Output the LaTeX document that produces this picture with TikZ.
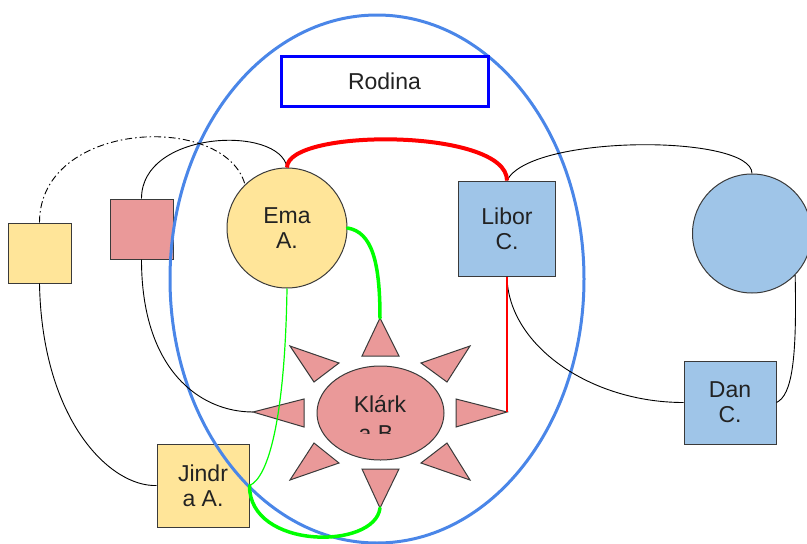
\documentclass[tikz,border=0pt]{standalone}
\usepackage{fontspec}
\setmainfont{Liberation Sans}
\usetikzlibrary{shapes.geometric}

\definecolor{famyellow}{HTML}{FFE599}
\definecolor{fampink}{HTML}{EA9999}
\definecolor{famblue}{HTML}{9FC5E8}
\definecolor{ringblue}{HTML}{4A86E8}
\definecolor{titleblue}{HTML}{0000FF}
\definecolor{linkgreen}{HTML}{00FF00}
\definecolor{linkred}{HTML}{FF0000}
\definecolor{edgegray}{HTML}{3A3A3A}
\definecolor{inkgray}{HTML}{222222}

\tikzset{
  person/.style={draw=edgegray, line width=1pt, inner sep=0pt, align=center,
    text=inkgray, font=\fontsize{23}{25}\selectfont},
  boxperson/.style={person, rectangle},
  roundperson/.style={person, circle},
  ray/.style={draw=edgegray, line width=1pt, fill=fampink, line join=miter},
  tie/.style={draw=black, line width=0.9pt},
  thinlink/.style={line width=1.2pt},
  strongtie/.style={line width=3.5pt, line cap=round},
}

\begin{document}
\begin{tikzpicture}[x=1pt, y=-1pt]
\useasboundingbox (0,0) rectangle (807,544);

% people
\node[boxperson, fill=famyellow, minimum width=63pt, minimum height=60pt] (yel) at (39.5,253) {};
\node[boxperson, fill=fampink, minimum width=63pt, minimum height=60pt] (pink) at (141.5,229) {};
\node[roundperson, fill=famyellow, minimum size=120pt] (ema) at (287,228) {Ema\\A.};
\node[boxperson, fill=famblue, minimum width=97pt, minimum height=95pt] (libor) at (507,228.5) {Libor\\C.};
\node[roundperson, fill=famblue, minimum size=119pt] (rc) at (752,233.5) {};
\node[boxperson, fill=famblue, minimum width=92pt, minimum height=83pt] (dan) at (730,402.5) {Dan\\C.};
\node[boxperson, fill=famyellow, minimum width=92pt, minimum height=83pt] (jindra) at (203,485.5) {Jindr\\a A.};

% the sun: body and eight rays
\node[ellipse, draw=edgegray, line width=1pt, fill=fampink, minimum width=127pt,
  minimum height=94pt, inner sep=0pt] (klara) at (380.5,413) {};
\begin{scope}
  \clip (300,380) rectangle (460,433);
  \node[anchor=base, text=inkgray, font=\fontsize{23}{25}\selectfont, inner sep=0pt] (klaraA) at (380,412.5) {Klárk};
  \node[anchor=base, text=inkgray, font=\fontsize{23}{25}\selectfont, inner sep=0pt] (klaraB) at (376,441) {a B};
\end{scope}

\coordinate (sunN) at (380,318);
\coordinate (sunS) at (380,508);
\coordinate (sunW) at (253,412);
\coordinate (sunE) at (507,412);
\path[ray] (sunN) -- (399,356) -- (362,356) -- cycle;
\path[ray] (sunS) -- (362,469) -- (399,469) -- cycle;
\path[ray] (sunW) -- (304,399) -- (304,427) -- cycle;
\path[ray] (sunE) -- (456,399) -- (456,427) -- cycle;
\path[ray] (290,346) -- (339,363) -- (314,382) -- cycle;
\path[ray] (470,346) -- (421,363) -- (447,382) -- cycle;
\path[ray] (314,443) -- (339,463) -- (290,480) -- cycle;
\path[ray] (447,443) -- (421,463) -- (470,480) -- cycle;

% the family ring and its title
\draw[ringblue, line width=3pt] (377,279) ellipse [x radius=207, y radius=264];
\node[draw=titleblue, line width=3pt, minimum width=207pt, minimum height=50pt,
  text=inkgray, font=\fontsize{23}{25}\selectfont] (rodina) at (384.5,81) {Rodina};

% ties
\draw[tie, dash pattern=on 7pt off 3pt on 1.5pt off 3pt]
  (yel.north) .. controls (39.5,120) and (225,112) .. (ema.134);
\draw[tie] (pink.north) .. controls (141.5,130) and (280,125) .. (ema.north);
\draw[tie] (yel.south) .. controls (42,420) and (110,487) .. (jindra.west);
\draw[tie] (pink.south) .. controls (141.5,370) and (200,412) .. (sunW);
\draw[tie] (libor.north) .. controls (530,134) and (752,134) .. (rc.north);
\draw[tie] (libor.south) .. controls (508,345) and (590,402.5) .. (dan.west);
\draw[tie] (rc.-44) .. controls (797,360) and (792,395) .. (dan.east);
\draw[linkred, thinlink] (libor.south) -- (sunE);
\draw[linkgreen, thinlink] (ema.south) .. controls (285,420) and (268,478) .. (jindra.east);

\draw[linkred, line width=4pt] (ema.north) .. controls (287,128) and (507,128) .. (libor.north);
\draw[linkgreen, strongtie] (ema.east) .. controls (372,232) and (380,262) .. (sunN);
\draw[linkgreen, strongtie] (jindra.east) .. controls (249,550) and (375,550) .. (sunS);
\end{tikzpicture}
\end{document}
